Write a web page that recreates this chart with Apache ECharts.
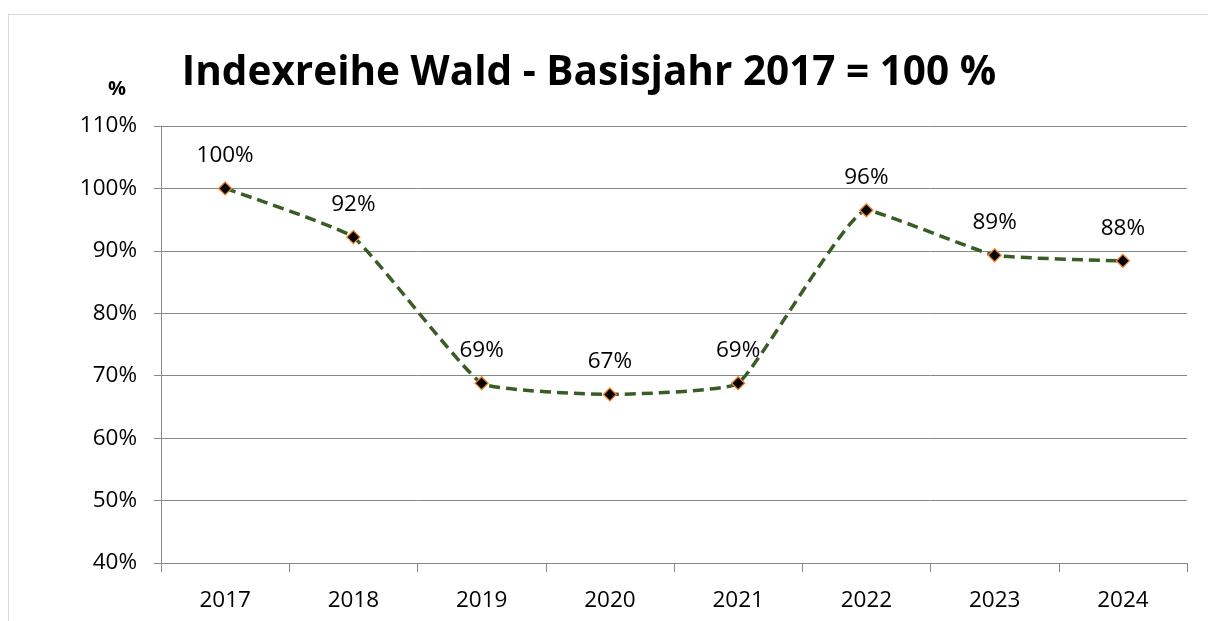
<!DOCTYPE html>
<html><head><meta charset="utf-8">
<script src="https://cdn.jsdelivr.net/npm/echarts@6/dist/echarts.min.js"></script>
<style>html,body{margin:0;padding:0;background:#fff}#c{width:1208px;height:621px}</style>
</head><body><div id="c"></div>
<script>
const categories = ['2017','2018','2019','2020','2021','2022','2023','2024'];
const values = [100, 92.2, 68.8, 67.0, 68.8, 96.5, 89.3, 88.4];
const valueLabels = ['100%','92%','69%','67%','69%','96%','89%','88%'];
const yMin = 40, yMax = 110, yStep = 10;
const titleText = 'Indexreihe Wald - Basisjahr 2017 = 100 %';
const yUnit = '%';

const FONT = 'Open Sans';
const chart = echarts.init(document.getElementById('c'), null, {renderer:'canvas'});
chart.setOption({
  animation: false,
  backgroundColor: '#fff',
  graphic: [
    {type:'rect', shape:{x:8.5,y:14.5,width:1300,height:700}, style:{fill:'none', stroke:'#d9d9d9', lineWidth:1}, z:-1},
    {type:'text', left:108, top:79, style:{text:yUnit, font:'bold 20px "Open Sans"', fill:'#000'}}
  ],
  title: {
    text: titleText, left: 584, top: 48, textAlign:'center',
    textStyle: {fontFamily: FONT, fontWeight: 'bold', fontSize: 40.5, color: '#000'}
  },
  grid: {left:161, right:21, top:126, bottom:58, containLabel:false},
  xAxis: {
    type:'category', data: categories, boundaryGap: true,
    axisLine:{lineStyle:{color:'#888', width:1}},
    axisTick:{show:true, length:9, lineStyle:{color:'#888'}},
    axisLabel:{fontFamily:FONT, fontSize:22.5, color:'#000', margin:26}
  },
  yAxis: {
    type:'value', min:yMin, max:yMax, interval:yStep,
    axisLine:{show:true, lineStyle:{color:'#888', width:1}},
    axisTick:{show:true, length:7, lineStyle:{color:'#888'}},
    splitLine:{lineStyle:{color:'#888', width:1}},
    axisLabel:{fontFamily:FONT, fontSize:22.5, color:'#000', margin:24, formatter: v => v + '%'}
  },
  series: [{
    type:'line', data: values, smooth: 0.12,
    symbol:'diamond', symbolSize:13,
    itemStyle:{color:'#000', borderColor:'#f58220', borderWidth:1.3},
    lineStyle:{color:'#3a5c25', width:3.5, type:[11,6]},
    label:{show:true, position:'top', distance:14, fontFamily:FONT, fontSize:22.5, color:'#000',
      formatter: p => valueLabels[p.dataIndex]}
  }]
});
</script></body></html>
